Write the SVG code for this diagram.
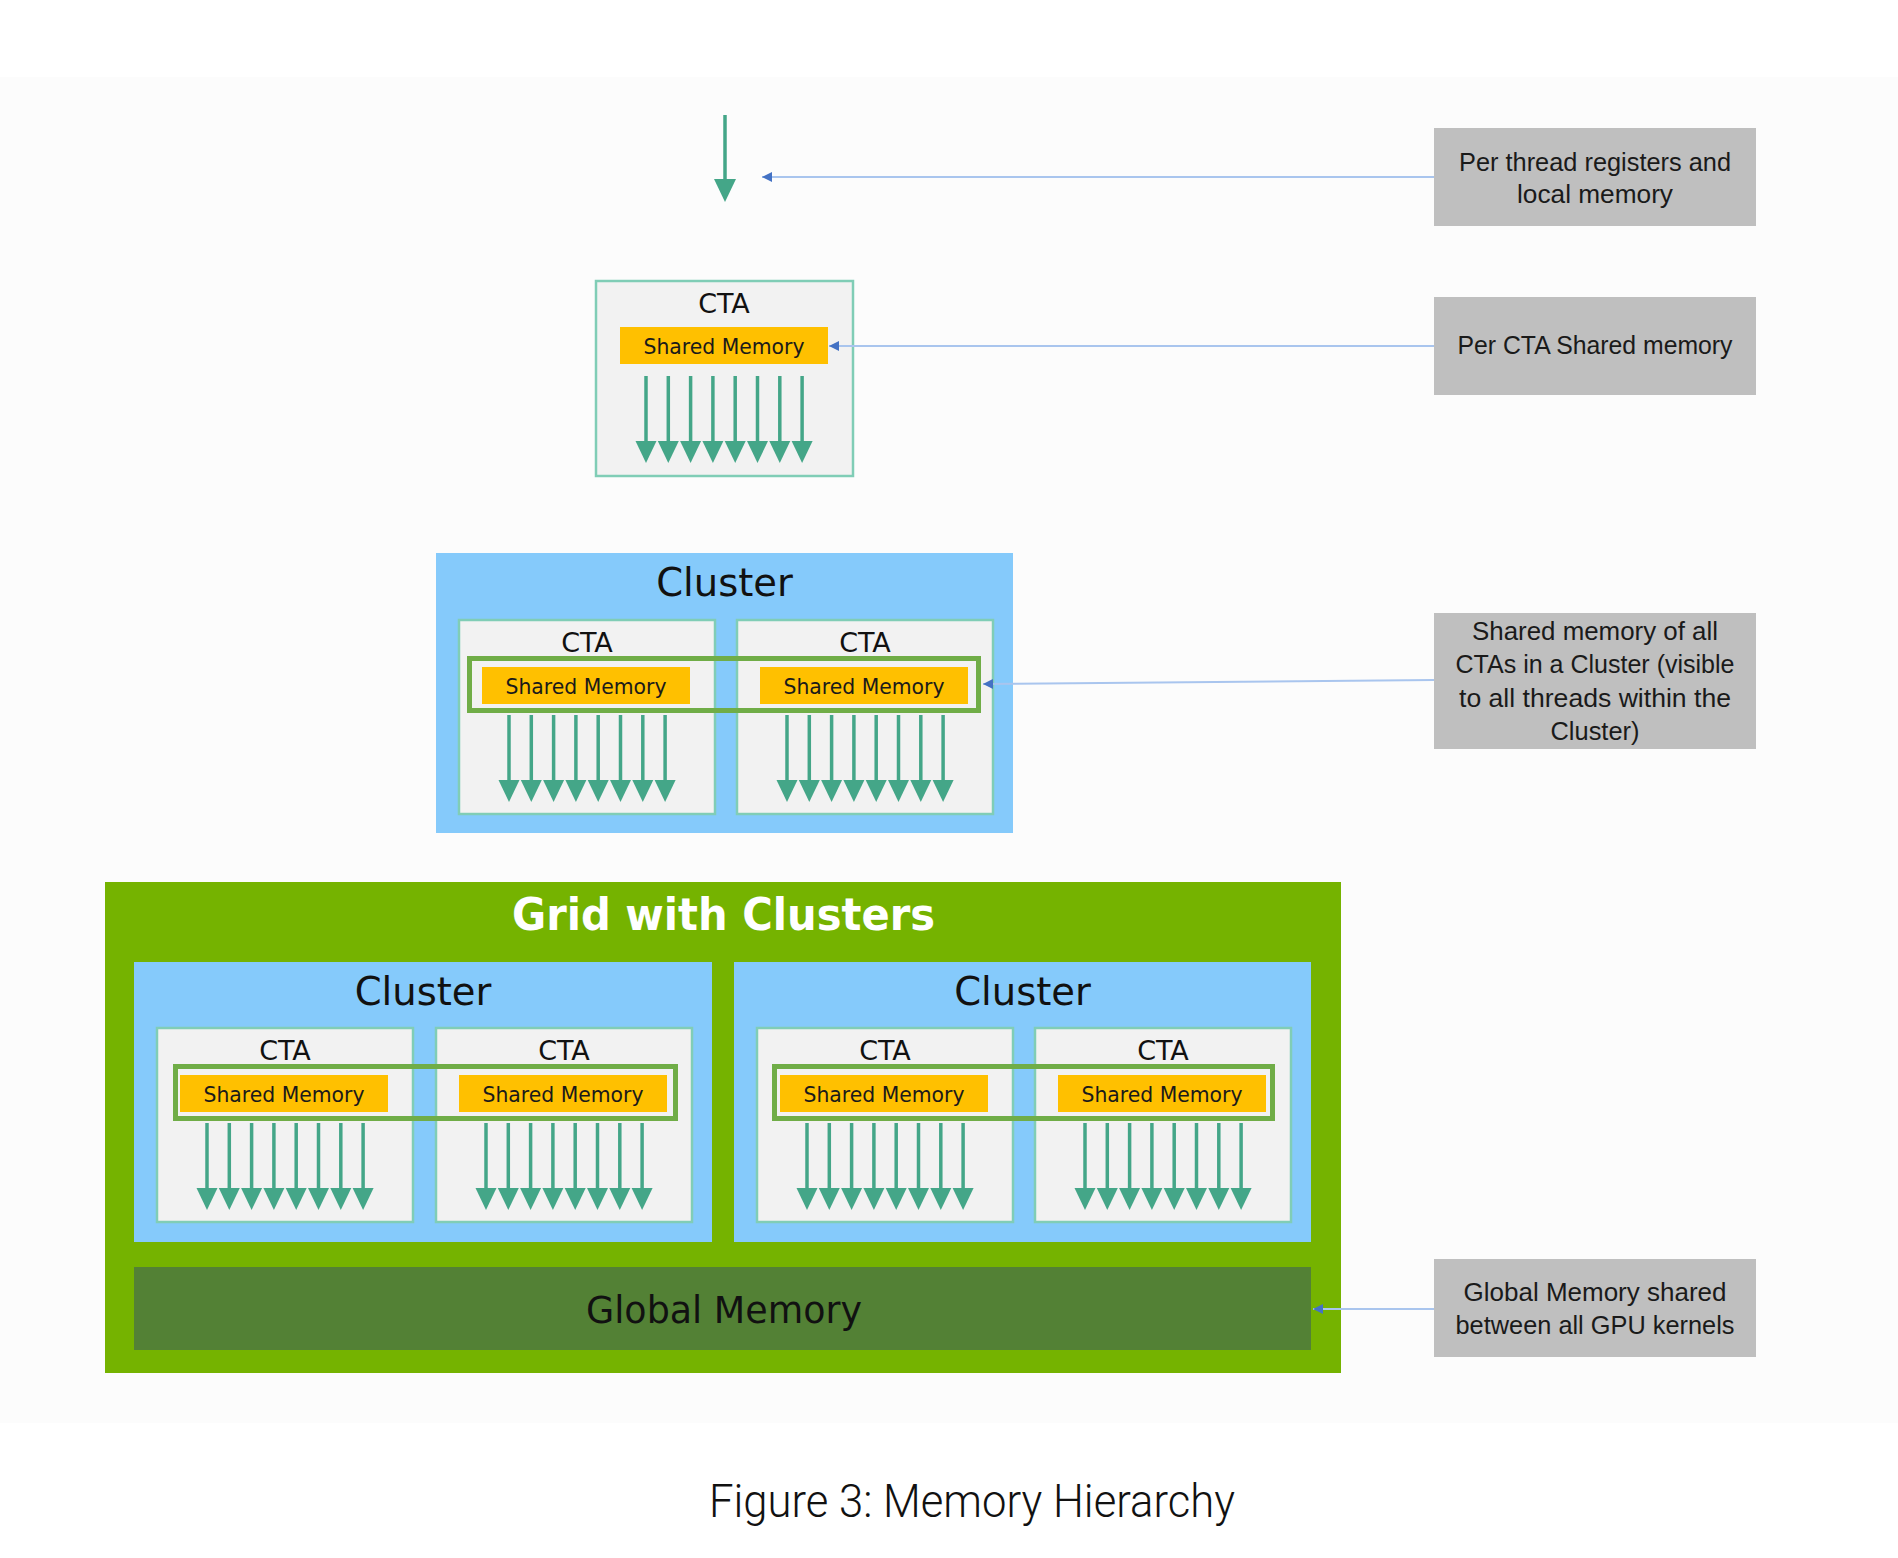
<svg xmlns="http://www.w3.org/2000/svg" xmlns:xlink="http://www.w3.org/1999/xlink" width="1898" height="1558" viewBox="0 0 1898 1558">
<style>
.cta{fill:#f2f2f2;stroke:#80cdb6;stroke-width:2.5}
.ctaT{font-family:"DejaVu Sans",Verdana,sans-serif;font-size:27px;fill:#111;text-anchor:middle}
.sm{fill:#ffc000}
.smT{font-family:"DejaVu Sans Condensed","DejaVu Sans",sans-serif;font-size:21.5px;fill:#1a1a1a;text-anchor:middle}
.clu{fill:#85cafb}
.cluT{font-family:"DejaVu Sans",Verdana,sans-serif;font-size:38.5px;fill:#111;text-anchor:middle}
.frame{fill:none;stroke:#70ad47;stroke-width:5}
.thr line{stroke:#44a688;stroke-width:3.5}
.thr polygon{fill:#44a688}
.lbl{fill:#bfbfbf}
.lblT{font-family:"Liberation Sans",Arial,sans-serif;font-size:25px;fill:#1a1a1a;text-anchor:middle}
.con{stroke:#a9c5ee;stroke-width:2;fill:none;marker-end:url(#ah)}
</style>
<defs>
<marker id="ah" markerUnits="userSpaceOnUse" markerWidth="10" markerHeight="10" viewBox="0 0 10 10" refX="10" refY="5" orient="auto">
<path d="M0,0 L10,5 L0,10 z" fill="#4472c4"/>
</marker>
<g id="threads" class="thr">
<line x1="50" y1="95" x2="50" y2="162"/><polygon points="39.5,160 60.5,160 50,182"/>
<line x1="72.3" y1="95" x2="72.3" y2="162"/><polygon points="61.8,160 82.8,160 72.3,182"/>
<line x1="94.6" y1="95" x2="94.6" y2="162"/><polygon points="84.1,160 105.1,160 94.6,182"/>
<line x1="116.9" y1="95" x2="116.9" y2="162"/><polygon points="106.4,160 127.4,160 116.9,182"/>
<line x1="139.2" y1="95" x2="139.2" y2="162"/><polygon points="128.7,160 149.7,160 139.2,182"/>
<line x1="161.5" y1="95" x2="161.5" y2="162"/><polygon points="151,160 172,160 161.5,182"/>
<line x1="183.8" y1="95" x2="183.8" y2="162"/><polygon points="173.3,160 194.3,160 183.8,182"/>
<line x1="206.1" y1="95" x2="206.1" y2="162"/><polygon points="195.6,160 216.6,160 206.1,182"/>
</g>
</defs>

<rect x="0" y="0" width="1898" height="1558" fill="#ffffff"/>
<rect x="0" y="77" width="1898" height="1346" fill="#fcfcfc"/>

<!-- single thread -->
<g id="thread" class="thr">
<line x1="725" y1="115" x2="725" y2="181"/>
<polygon points="714,179 736,179 725,202"/>
</g>

<!-- standalone CTA -->
<g id="cta-single">
<rect class="cta" x="596" y="281" width="257" height="195"/>
<text class="ctaT" x="724" y="313">CTA</text>
<rect class="sm" x="620" y="327" width="208" height="37"/>
<text class="smT" x="724" y="354" textLength="161" lengthAdjust="spacingAndGlyphs">Shared Memory</text>
<use href="#threads" x="596" y="281"/>
</g>

<!-- standalone cluster -->
<g id="cluster-single">
<rect class="clu" x="436" y="553" width="577" height="280"/>
<text class="cluT" x="724.5" y="595.5">Cluster</text>
<g id="cluster-single-cta1">
<rect class="cta" x="459" y="620" width="256" height="194"/>
<text class="ctaT" x="587" y="652">CTA</text>
<rect class="sm" x="482" y="667" width="208" height="37"/>
<text class="smT" x="586" y="694" textLength="161" lengthAdjust="spacingAndGlyphs">Shared Memory</text>
<use href="#threads" x="459" y="620"/>
</g>
<g id="cluster-single-cta2">
<rect class="cta" x="737" y="620" width="256" height="194"/>
<text class="ctaT" x="865" y="652">CTA</text>
<rect class="sm" x="760" y="667" width="208" height="37"/>
<text class="smT" x="864" y="694" textLength="161" lengthAdjust="spacingAndGlyphs">Shared Memory</text>
<use href="#threads" x="737" y="620"/>
</g>
<rect class="frame" x="469.5" y="658.5" width="509" height="52"/>
</g>

<!-- grid -->
<g id="grid">
<rect x="105" y="882" width="1236" height="491" fill="#75b300"/>
<text x="723.5" y="930" font-family="DejaVu Sans,Verdana,sans-serif" font-weight="bold" font-size="45" fill="#ffffff" text-anchor="middle" textLength="423" lengthAdjust="spacingAndGlyphs">Grid with Clusters</text>

<g id="grid-cluster-left">
<rect class="clu" x="134" y="962" width="578" height="280"/>
<text class="cluT" x="423" y="1005">Cluster</text>
<g id="gcl-cta1">
<rect class="cta" x="157" y="1028" width="256" height="194"/>
<text class="ctaT" x="285" y="1060">CTA</text>
<rect class="sm" x="180" y="1075" width="208" height="37"/>
<text class="smT" x="284" y="1102" textLength="161" lengthAdjust="spacingAndGlyphs">Shared Memory</text>
<use href="#threads" x="157" y="1028"/>
</g>
<g id="gcl-cta2">
<rect class="cta" x="436" y="1028" width="256" height="194"/>
<text class="ctaT" x="564" y="1060">CTA</text>
<rect class="sm" x="459" y="1075" width="208" height="37"/>
<text class="smT" x="563" y="1102" textLength="161" lengthAdjust="spacingAndGlyphs">Shared Memory</text>
<use href="#threads" x="436" y="1028"/>
</g>
<rect class="frame" x="175.5" y="1066.5" width="500" height="52"/>
</g>

<g id="grid-cluster-right">
<rect class="clu" x="734" y="962" width="577" height="280"/>
<text class="cluT" x="1022.5" y="1005">Cluster</text>
<g id="gcr-cta1">
<rect class="cta" x="757" y="1028" width="256" height="194"/>
<text class="ctaT" x="885" y="1060">CTA</text>
<rect class="sm" x="780" y="1075" width="208" height="37"/>
<text class="smT" x="884" y="1102" textLength="161" lengthAdjust="spacingAndGlyphs">Shared Memory</text>
<use href="#threads" x="757" y="1028"/>
</g>
<g id="gcr-cta2">
<rect class="cta" x="1035" y="1028" width="256" height="194"/>
<text class="ctaT" x="1163" y="1060">CTA</text>
<rect class="sm" x="1058" y="1075" width="208" height="37"/>
<text class="smT" x="1162" y="1102" textLength="161" lengthAdjust="spacingAndGlyphs">Shared Memory</text>
<use href="#threads" x="1035" y="1028"/>
</g>
<rect class="frame" x="774.5" y="1066.5" width="498" height="52"/>
</g>

<g id="global-memory">
<rect x="134" y="1267" width="1177" height="83" fill="#538135"/>
<text x="724" y="1323" font-family="DejaVu Sans,Verdana,sans-serif" font-size="37" fill="#111" text-anchor="middle" textLength="276" lengthAdjust="spacingAndGlyphs">Global Memory</text>
</g>
</g>

<!-- labels -->
<g id="label-thread">
<rect class="lbl" x="1434" y="128" width="322" height="98"/>
<text class="lblT" x="1595" y="171" textLength="272" lengthAdjust="spacingAndGlyphs">Per thread registers and</text>
<text class="lblT" x="1595" y="203" textLength="156" lengthAdjust="spacingAndGlyphs">local memory</text>
</g>
<g id="label-cta">
<rect class="lbl" x="1434" y="297" width="322" height="98"/>
<text class="lblT" x="1595" y="354" textLength="275" lengthAdjust="spacingAndGlyphs">Per CTA Shared memory</text>
</g>
<g id="label-cluster">
<rect class="lbl" x="1434" y="613" width="322" height="136"/>
<text class="lblT" x="1595" y="640" textLength="246" lengthAdjust="spacingAndGlyphs">Shared memory of all</text>
<text class="lblT" x="1595" y="673" textLength="279" lengthAdjust="spacingAndGlyphs">CTAs in a Cluster (visible</text>
<text class="lblT" x="1595" y="707" textLength="272" lengthAdjust="spacingAndGlyphs">to all threads within the</text>
<text class="lblT" x="1595" y="740" textLength="89" lengthAdjust="spacingAndGlyphs">Cluster)</text>
</g>
<g id="label-global">
<rect class="lbl" x="1434" y="1259" width="322" height="98"/>
<text class="lblT" x="1595" y="1301" textLength="263" lengthAdjust="spacingAndGlyphs">Global Memory shared</text>
<text class="lblT" x="1595" y="1334" textLength="279" lengthAdjust="spacingAndGlyphs">between all GPU kernels</text>
</g>

<!-- connectors -->
<g id="connectors">
<line class="con" x1="1434" y1="177" x2="762" y2="177"/>
<line class="con" x1="1434" y1="346" x2="829" y2="346"/>
<line class="con" x1="1434" y1="680" x2="983" y2="684"/>
<line class="con" x1="1434" y1="1309" x2="1313" y2="1309"/>
</g>

<text id="caption" x="972" y="1517" font-family="Roboto,sans-serif" font-weight="300" font-size="46" fill="#111" text-anchor="middle" textLength="526" lengthAdjust="spacingAndGlyphs">Figure 3: Memory Hierarchy</text>
</svg>
